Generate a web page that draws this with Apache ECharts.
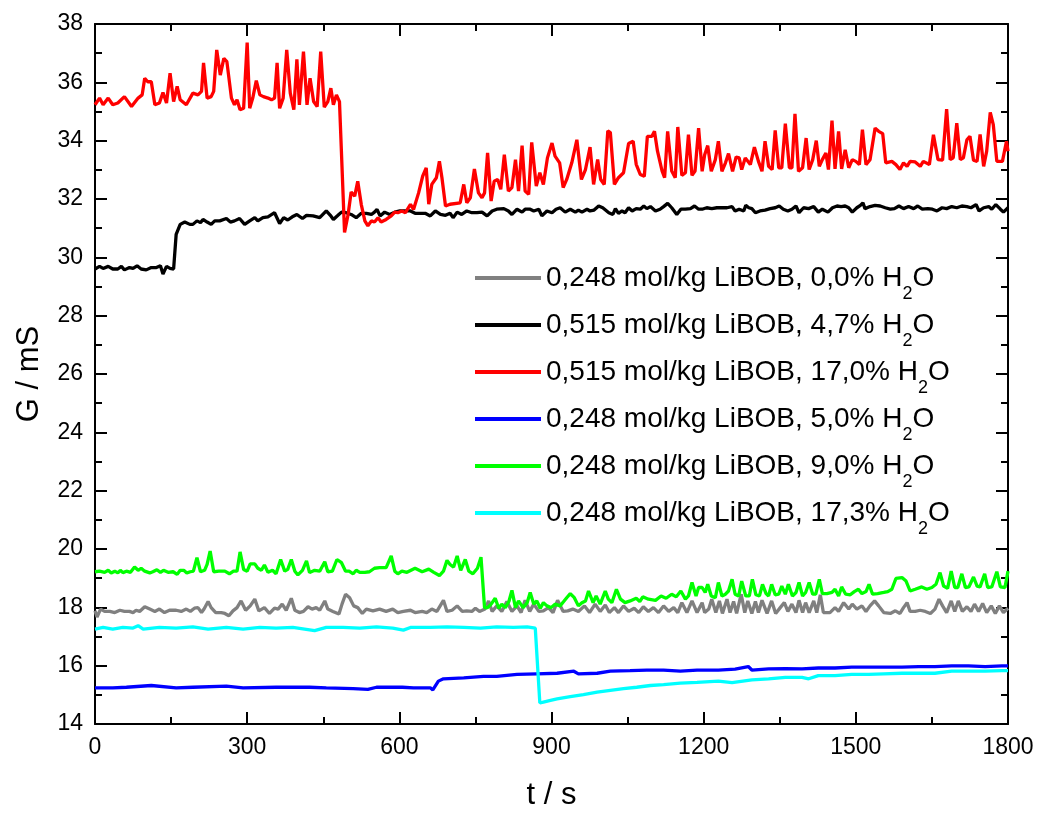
<!DOCTYPE html>
<html>
<head>
<meta charset="utf-8">
<script src="https://cdn.jsdelivr.net/npm/echarts@6/dist/echarts.min.js"></script>
<style>
  html, body { margin: 0; padding: 0; background: #fff; }
  #main { width: 1038px; height: 816px; }
</style>
</head>
<body>
<div id="main"></div>
<script>
// legend names (H2O gets a subscript 2 in the legend formatter)
var names = [
    '0,248 mol/kg LiBOB, 0,0% H2O',
    '0,515 mol/kg LiBOB, 4,7% H2O',
    '0,515 mol/kg LiBOB, 17,0% H2O',
    '0,248 mol/kg LiBOB, 5,0% H2O',
    '0,248 mol/kg LiBOB, 9,0% H2O',
    '0,248 mol/kg LiBOB, 17,3% H2O'
];
var colors = ['#808080', '#000000', '#ff0000', '#0000ff', '#00ff00', '#00ffff'];

// [t in s, G in mS]
var gray00 = [[0,17.88],[4,17.67],[11,17.94],[19,17.86],[29,17.86],[39,17.82],[49,17.90],[58,17.86],[68,17.86],[75,17.82],[81,17.90],[88,17.86],[98,18.02],[108,17.94],[118,17.86],[127,17.94],[137,17.82],[147,17.90],[160,17.90],[170,17.86],[180,17.94],[188,17.86],[196,17.97],[203,17.99],[210,17.82],[215,17.94],[223,18.20],[229,17.99],[238,17.82],[249,17.82],[256,17.79],[264,17.71],[272,17.88],[280,17.99],[288,18.22],[297,17.90],[306,18.05],[315,18.28],[323,17.88],[334,17.99],[344,17.79],[354,17.97],[361,17.94],[369,18.11],[377,17.90],[387,18.31],[394,17.90],[403,17.82],[411,17.86],[420,18.02],[428,17.94],[436,17.99],[443,17.90],[453,18.22],[459,17.94],[469,17.86],[481,17.77],[487,18.11],[494,18.45],[502,18.33],[510,18.05],[518,17.99],[527,17.79],[535,17.94],[548,17.88],[561,17.94],[574,17.86],[587,17.94],[597,17.82],
[608,17.86],[622,17.90],[631,17.82],[645,17.86],[654,17.82],[664,17.94],[674,17.86],[687,18.24],[694,17.86],[704,17.90],[714,18.05],[724,17.86],[733,17.88],[743,17.86],[750,17.97],[758,17.86],[769,17.94],[776,18.22],[783,17.86],[792,18.05],[802,17.86],[812,18.20],[822,17.86],[832,18.05],[840,17.82],[848,18.24],[857,17.86],[865,18.11],[875,17.86],[884,17.88],[894,17.99],[903,17.82],[912,18.24],[923,17.86],[932,17.88],[942,17.94],[953,17.86],[965,18.05],[975,17.82],[986,18.11],[996,17.86],[1006,18.08],[1014,17.82],[1024,17.99],[1032,17.82],[1042,18.05],[1052,17.86],[1063,17.97],[1072,17.82],[1081,18.02],[1091,17.86],[1101,17.99],[1111,17.82],[1121,18.05],[1131,17.86],[1141,17.99],[1149,17.82],[1157,18.16],[1167,17.82],[1177,18.22],[1187,17.82],
[1197,18.16],[1202,17.82],[1210,17.94],[1216,18.28],[1224,17.82],[1231,18.22],[1237,17.79],[1246,18.28],[1252,17.82],[1259,18.20],[1265,17.79],[1274,18.45],[1281,17.82],[1287,18.22],[1295,17.79],[1302,18.20],[1308,17.82],[1315,18.24],[1325,17.79],[1334,18.22],[1342,17.79],[1351,17.99],[1359,18.16],[1366,17.86],[1374,18.11],[1382,17.82],[1388,18.24],[1395,17.82],[1401,18.16],[1408,17.82],[1417,18.22],[1423,17.82],[1430,18.43],[1436,17.82],[1449,17.82],[1459,17.99],[1466,17.86],[1476,18.16],[1486,17.94],[1493,18.11],[1502,17.94],[1512,18.05],[1520,17.86],[1528,18.05],[1537,18.22],[1545,18.05],[1555,17.82],[1568,17.79],[1578,17.88],[1587,17.79],[1594,17.99],[1601,18.16],[1607,17.86],[1617,17.86],[1627,17.90],[1637,17.86],[1647,17.79],[1656,17.94],[1664,18.28],[1671,18.05],[1679,17.82],[1688,18.22],[1695,17.86],[1702,18.22],[1710,17.86],[1719,18.02],[1727,17.86],[1734,18.11],[1742,17.86],[1750,18.13],[1758,17.82],[1767,18.05],[1775,17.79],[1783,18.05],[1791,17.82],[1800,17.97]];

var black47 = [[0,29.60],[9,29.69],[16,29.62],[26,29.69],[35,29.60],[45,29.60],[52,29.69],[58,29.57],[68,29.65],[75,29.62],[83,29.71],[91,29.60],[101,29.57],[111,29.65],[121,29.65],[129,29.71],[134,29.43],[141,29.69],[148,29.62],[155,29.60],[160,30.79],[168,31.13],[177,31.21],[187,31.13],[193,31.13],[201,31.25],[208,31.19],[213,31.30],[221,31.21],[229,31.13],[236,31.25],[246,31.25],[259,31.33],[267,31.21],[275,31.25],[285,31.33],[295,31.13],[305,31.25],[315,31.36],[321,31.25],[331,31.36],[341,31.39],[354,31.53],[364,31.16],[372,31.36],[380,31.28],[389,31.39],[398,31.47],[409,31.33],[417,31.44],[430,31.42],[443,31.36],[456,31.59],[464,31.44],[470,31.30],[479,31.44],[486,31.55],[495,31.53],[505,31.47],[515,31.36],[525,31.51],[535,31.51],[545,31.47],[551,31.55],[556,31.64],[562,31.42],[571,31.55],[581,31.47],[591,31.55],[601,31.59],
[622,31.59],[631,31.51],[641,31.51],[651,31.51],[661,31.42],[671,31.59],[681,31.47],[691,31.44],[700,31.51],[706,31.36],[714,31.55],[723,31.47],[733,31.59],[743,31.53],[753,31.53],[763,31.55],[773,31.42],[783,31.59],[792,31.65],[806,31.67],[815,31.59],[822,31.47],[832,31.65],[842,31.55],[848,31.65],[858,31.65],[865,31.59],[875,31.65],[881,31.42],[891,31.59],[901,31.53],[909,31.65],[917,31.70],[927,31.55],[937,31.65],[947,31.55],[953,31.62],[960,31.55],[970,31.65],[976,31.59],[984,31.62],[993,31.76],[1001,31.70],[1013,31.53],[1021,31.47],[1026,31.67],[1032,31.51],[1039,31.59],[1045,31.53],[1052,31.70],[1059,31.59],[1067,31.67],[1075,31.65],[1082,31.76],[1088,31.67],[1095,31.74],[1105,31.59],[1114,31.65],[1121,31.74],[1129,31.85],[1137,31.70],[1147,31.47],[1155,31.65],[1164,31.65],[1174,31.67],[1182,31.76],[1190,31.65],
[1197,31.65],[1206,31.70],[1216,31.67],[1226,31.70],[1236,31.70],[1246,31.70],[1256,31.74],[1262,31.59],[1270,31.65],[1279,31.59],[1283,31.78],[1289,31.70],[1295,31.67],[1302,31.53],[1311,31.59],[1321,31.62],[1331,31.67],[1341,31.70],[1349,31.76],[1357,31.65],[1366,31.59],[1374,31.65],[1382,31.76],[1388,31.53],[1397,31.70],[1407,31.67],[1417,31.74],[1426,31.55],[1434,31.65],[1445,31.55],[1454,31.70],[1463,31.76],[1471,31.74],[1479,31.76],[1486,31.70],[1493,31.55],[1502,31.70],[1509,31.78],[1514,31.87],[1518,31.67],[1528,31.74],[1538,31.78],[1548,31.76],[1558,31.70],[1568,31.65],[1576,31.67],[1585,31.76],[1594,31.67],[1604,31.74],[1614,31.67],[1622,31.76],[1631,31.65],[1642,31.67],[1651,31.65],[1660,31.59],[1670,31.70],[1679,31.67],[1689,31.74],[1699,31.70],[1709,31.76],[1719,31.74],[1727,31.70],[1737,31.81],[1743,31.59],[1752,31.70],[1762,31.74],[1768,31.65],[1776,31.81],[1785,31.65],[1791,31.55],[1800,31.70]];

var red170 = [[0,35.23],[9,35.46],[16,35.23],[26,35.46],[35,35.23],[45,35.29],[58,35.51],[72,35.17],[85,35.46],[93,35.57],[98,36.14],[104,36.02],[111,36.02],[118,35.23],[127,35.29],[134,35.65],[141,35.29],[148,36.31],[155,35.34],[162,35.86],[168,35.40],[180,35.23],[193,35.63],[203,35.57],[210,35.69],[214,36.67],[221,35.46],[229,35.51],[234,35.69],[240,37.11],[247,36.25],[254,36.82],[260,36.71],[269,35.46],[275,35.23],[280,35.40],[286,35.06],[293,35.11],[300,37.36],[305,35.11],[311,35.46],[318,36.06],[325,35.57],[332,35.51],[341,35.46],[348,35.40],[354,35.46],[359,36.67],[364,35.11],[371,35.46],[378,37.11],[385,35.63],[392,35.06],[398,36.79],[403,35.23],[411,37.05],[418,35.23],[424,36.14],[431,35.34],[438,35.17],[445,37.05],[452,35.15],[459,35.34],[465,35.80],[470,35.23],[476,35.57],[482,35.34],[492,30.85],[499,31.47],[505,32.24],[512,32.10],[518,32.61],[525,31.81],[532,31.25],[538,31.08],[545,31.25],[551,31.21],[558,31.36],[564,31.21],[574,31.30],[584,31.42],[591,31.55],[597,31.53],
[605,31.59],[612,31.53],[622,31.82],[628,31.64],[638,32.21],[646,32.78],[653,33.07],[658,31.82],[664,32.50],[673,32.73],[679,33.29],[684,32.73],[691,31.76],[700,31.82],[720,31.87],[727,32.50],[733,31.87],[740,32.04],[748,33.03],[756,32.21],[763,32.04],[768,32.21],[774,33.58],[781,31.93],[787,32.61],[794,32.67],[800,32.33],[807,33.52],[815,32.27],[822,32.39],[829,33.35],[835,32.27],[842,33.83],[848,32.27],[855,32.16],[861,33.94],[870,32.44],[877,32.90],[884,32.50],[892,33.41],[901,33.92],[907,33.47],[916,33.24],[923,32.39],[930,32.67],[940,33.24],[950,34.03],[959,32.67],[967,33.01],[976,33.78],[983,32.50],[991,33.35],[997,32.67],[1004,32.50],[1011,34.34],[1016,34.28],[1024,32.50],[1032,32.73],[1042,32.90],[1052,33.90],[1061,33.98],[1067,33.19],[1075,32.84],[1083,32.78],[1089,34.15],[1098,34.15],[1103,34.32],[1109,33.64],[1118,32.96],[1123,32.73],[1129,34.32],[1137,32.96],[1144,32.73],[1149,34.47],[1157,32.81],[1164,32.90],[1170,34.21],[1177,32.81],[1183,32.96],[1190,34.43],
[1197,32.95],[1202,33.52],[1208,33.83],[1215,32.95],[1223,33.35],[1229,33.98],[1236,32.95],[1243,33.24],[1249,33.56],[1257,32.95],[1264,33.44],[1270,33.41],[1275,33.01],[1282,33.41],[1292,33.18],[1300,33.78],[1308,33.29],[1315,32.95],[1321,33.98],[1328,33.12],[1335,33.01],[1341,34.35],[1348,33.07],[1354,33.07],[1361,34.58],[1369,33.07],[1374,33.07],[1380,34.92],[1387,32.95],[1395,33.07],[1402,34.09],[1408,33.01],[1415,33.35],[1422,34.00],[1428,33.12],[1434,33.35],[1441,33.58],[1446,33.01],[1453,34.69],[1459,33.03],[1466,34.32],[1472,33.03],[1479,33.69],[1486,33.07],[1493,33.35],[1500,33.29],[1507,33.18],[1513,34.38],[1520,33.18],[1528,33.35],[1538,34.43],[1545,34.32],[1553,34.24],[1559,33.24],[1571,33.29],[1579,33.18],[1587,33.01],[1594,33.24],[1601,33.12],[1607,33.29],[1617,33.27],[1627,33.12],[1633,33.29],[1645,33.18],[1653,34.20],[1662,33.35],[1671,33.33],[1679,35.08],[1686,33.35],[1692,33.41],[1699,34.60],[1706,33.35],[1712,33.41],[1719,34.03],[1725,34.15],[1732,33.33],[1739,33.29],[1745,34.21],[1752,33.12],[1758,33.64],[1765,34.97],[1771,34.55],[1778,33.29],[1789,33.29],[1797,33.98],[1800,33.64]];

var blue50 = [[0,15.24],[35,15.24],[62,15.26],[111,15.32],[160,15.24],[193,15.26],[259,15.30],[292,15.24],[357,15.26],[423,15.26],[456,15.24],[509,15.21],[538,15.19],[555,15.26],[606,15.26],[628,15.24],[661,15.24],[666,15.17],[677,15.47],[687,15.55],[727,15.58],[766,15.63],[792,15.63],[832,15.70],[871,15.72],[911,15.74],[944,15.81],[953,15.72],[990,15.74],[1016,15.81],[1055,15.83],[1088,15.85],[1121,15.85],[1154,15.81],[1187,15.85],[1229,15.85],[1262,15.88],[1288,15.97],[1295,15.85],[1328,15.89],[1361,15.90],[1394,15.89],[1426,15.92],[1459,15.92],[1492,15.95],[1525,15.95],[1558,15.95],[1591,15.95],[1624,15.97],[1656,15.97],[1689,15.99],[1722,15.99],[1755,15.97],[1788,15.99],[1800,15.99]];

var green90 = [[0,19.22],[9,19.24],[19,19.20],[26,19.27],[32,19.18],[39,19.24],[45,19.18],[50,19.27],[55,19.19],[62,19.24],[70,19.20],[78,19.38],[85,19.27],[91,19.34],[98,19.24],[108,19.18],[114,19.22],[122,19.29],[129,19.20],[135,19.27],[144,19.20],[154,19.22],[162,19.13],[168,19.27],[175,19.27],[181,19.18],[188,19.22],[194,19.24],[201,19.70],[208,19.22],[216,19.27],[221,19.47],[227,19.93],[234,19.22],[244,19.24],[256,19.24],[265,19.15],[273,19.24],[280,19.24],[286,19.90],[293,19.30],[300,19.24],[306,19.49],[315,19.49],[321,19.34],[328,19.27],[334,19.45],[341,19.20],[350,19.27],[357,19.15],[366,19.64],[374,19.24],[380,19.30],[387,19.64],[394,19.24],[400,19.11],[409,19.27],[417,19.59],[423,19.19],[433,19.27],[443,19.24],[453,19.56],[459,19.22],[468,19.24],[477,19.64],[486,19.53],[494,19.24],[501,19.24],[509,19.15],[515,19.27],[522,19.20],[532,19.20],[541,19.22],[551,19.34],[561,19.36],[574,19.36],[584,19.76],[591,19.24],[597,19.15],
[605,19.24],[615,19.20],[625,19.29],[631,19.34],[645,19.22],[658,19.31],[668,19.20],[679,19.09],[687,19.24],[694,19.61],[700,19.47],[707,19.38],[714,19.76],[721,19.27],[730,19.64],[737,19.24],[745,19.15],[754,19.34],[761,19.72],[768,17.99],[774,17.99],[781,18.11],[789,18.31],[796,17.97],[802,18.11],[809,17.99],[816,18.20],[822,18.58],[829,17.99],[835,18.22],[844,17.99],[852,18.16],[858,18.51],[865,18.11],[871,18.22],[878,17.97],[884,18.16],[891,18.05],[899,17.99],[907,18.11],[917,18.05],[924,18.20],[930,18.33],[937,18.47],[945,18.33],[953,18.05],[960,18.16],[967,18.22],[973,18.56],[982,18.16],[988,18.39],[996,18.11],[1006,18.56],[1012,18.28],[1019,18.16],[1028,18.62],[1036,18.28],[1045,18.16],[1055,18.22],[1067,18.31],[1074,18.20],[1080,18.36],[1091,18.28],[1105,18.24],[1116,18.39],[1126,18.31],[1137,18.45],[1146,18.36],[1155,18.56],[1164,18.28],[1170,18.39],[1177,18.85],[1185,18.39],[1190,18.68],
[1197,18.68],[1203,18.51],[1208,18.79],[1215,18.39],[1223,18.33],[1229,18.85],[1236,18.39],[1243,18.45],[1249,18.56],[1256,18.96],[1262,18.45],[1269,18.39],[1275,18.90],[1283,18.39],[1290,18.39],[1296,18.96],[1303,18.43],[1310,18.39],[1316,18.79],[1323,18.47],[1328,18.39],[1334,18.79],[1341,18.43],[1348,18.45],[1354,18.73],[1361,18.45],[1367,18.79],[1375,18.39],[1382,18.51],[1388,18.85],[1395,18.39],[1401,18.51],[1408,18.85],[1415,18.45],[1421,18.45],[1428,18.96],[1434,18.47],[1443,18.47],[1453,18.51],[1459,18.62],[1466,18.39],[1472,18.70],[1480,18.45],[1489,18.43],[1497,18.54],[1505,18.62],[1512,18.47],[1520,18.54],[1526,18.79],[1533,18.45],[1543,18.47],[1555,18.51],[1563,18.54],[1571,18.62],[1579,18.99],[1591,19.02],[1599,18.90],[1607,18.56],[1617,18.62],[1630,18.70],[1640,18.62],[1650,18.68],[1658,18.79],[1666,19.19],[1673,18.73],[1681,18.65],[1688,19.24],[1695,18.68],[1701,18.68],[1709,19.15],[1716,18.68],[1723,18.70],[1732,19.04],[1739,18.73],[1745,18.70],[1754,19.15],[1760,18.68],[1768,18.70],[1778,19.22],[1785,18.70],[1794,18.68],[1800,19.24]];

var cyan173 = [[0,17.25],[16,17.31],[35,17.25],[55,17.31],[75,17.29],[85,17.37],[95,17.25],[127,17.31],[160,17.29],[193,17.33],[223,17.25],[259,17.31],[292,17.25],[325,17.31],[357,17.29],[390,17.31],[433,17.20],[456,17.31],[489,17.31],[522,17.29],[555,17.33],[587,17.29],[608,17.22],[622,17.31],[661,17.31],[694,17.33],[727,17.31],[760,17.29],[792,17.33],[825,17.31],[852,17.33],[868,17.29],[877,14.72],[884,14.75],[898,14.81],[911,14.86],[937,14.94],[963,15.01],[990,15.09],[1016,15.15],[1042,15.21],[1068,15.26],[1095,15.32],[1121,15.35],[1154,15.40],[1187,15.43],[1229,15.47],[1256,15.42],[1295,15.51],[1328,15.55],[1361,15.60],[1394,15.60],[1407,15.55],[1426,15.66],[1459,15.66],[1492,15.70],[1525,15.70],[1555,15.72],[1591,15.74],[1624,15.74],[1656,15.74],[1689,15.81],[1722,15.81],[1755,15.81],[1788,15.83],[1800,15.83]];

var seriesData = [gray00, black47, red170, blue50, green90, cyan173];

var xTicks = { min: 0, max: 1800, interval: 300 };
var yTicks = { min: 14, max: 38, interval: 2 };

var font = '"Liberation Sans", Arial, Helvetica, sans-serif';
var myChart = echarts.init(document.getElementById('main'));

function axisBase(showLabel) {
    return {
        type: 'value',
        axisLine: { show: true, onZero: false, lineStyle: { color: '#000', width: 2 } },
        axisTick: { show: true, inside: true, length: 12, lineStyle: { color: '#000', width: 2 } },
        minorTick: { show: true, splitNumber: 2, length: 7, lineStyle: { color: '#000', width: 2 } },
        axisLabel: {
            show: showLabel, color: '#000', fontSize: 23, fontFamily: font,
            formatter: function (v) { return String(v); }
        },
        splitLine: { show: false },
        minorSplitLine: { show: false }
    };
}

var xBottom = Object.assign(axisBase(true), xTicks, {
    position: 'bottom',
    name: 't / s', nameLocation: 'middle', nameGap: 56,
    nameTextStyle: { color: '#000', fontSize: 31, fontFamily: font }
});
xBottom.axisLabel.margin = 12;
var xTop = Object.assign(axisBase(false), xTicks, { position: 'top' });

var yLeft = Object.assign(axisBase(true), yTicks, {
    position: 'left',
    name: 'G / mS', nameLocation: 'middle', nameGap: 50,
    nameTextStyle: { color: '#000', fontSize: 31, fontFamily: font }
});
yLeft.axisLabel.margin = 12;
var yRight = Object.assign(axisBase(false), yTicks, { position: 'right' });

var option = {
    animation: false,
    backgroundColor: '#fff',
    grid: { left: 95, right: 30, top: 24, bottom: 89 },
    xAxis: [xBottom, xTop],
    yAxis: [yLeft, yRight],
    legend: {
        data: names,
        orient: 'vertical',
        left: 470,
        top: 248,
        icon: 'rect',
        itemWidth: 66,
        itemHeight: 4,
        itemGap: -3,
        formatter: function (name) {
            return name.replace('H2O', 'H{sub|2}O');
        },
        textStyle: {
            color: '#000', fontSize: 28, lineHeight: 50, fontFamily: font,
            rich: {
                sub: { fontSize: 18, lineHeight: 18, verticalAlign: 'bottom', fontFamily: font, color: '#000' }
            }
        }
    },
    series: seriesData.map(function (d, i) {
        return {
            name: names[i],
            type: 'line',
            xAxisIndex: 0,
            yAxisIndex: 0,
            data: d,
            symbol: 'none',
            color: colors[i],
            lineStyle: { color: colors[i], width: 3.3 }
        };
    })
};

myChart.setOption(option);
</script>
</body>
</html>
